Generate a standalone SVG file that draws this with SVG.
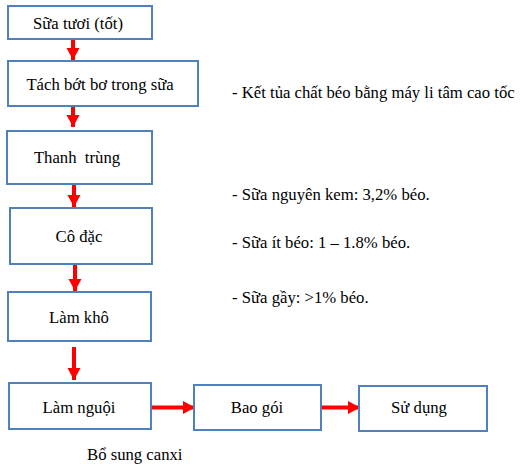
<svg xmlns="http://www.w3.org/2000/svg" width="529" height="468" viewBox="0 0 529 468">
<style>
.box{fill:#fff;stroke:#4F81BD;stroke-width:2}
.t{font-family:'Liberation Serif','DejaVu Serif',serif;font-size:16.7px;fill:#000}
.c{text-anchor:middle}
.arr{stroke:#FF0000;stroke-width:4;fill:none}
</style>
<defs>
<marker id="ah" markerUnits="userSpaceOnUse" markerWidth="13" markerHeight="16" refX="12" refY="8" orient="auto">
<path d="M0,1.5 L12,8 L0,14.5 Z" fill="#FF0000"/>
</marker>
</defs>
<rect width="529" height="468" fill="#fff"/>
<g id="connectors">
<line class="arr" x1="73" y1="40" x2="73" y2="60" marker-end="url(#ah)"/>
<line class="arr" x1="73" y1="107" x2="73" y2="127" marker-end="url(#ah)"/>
<line class="arr" x1="74" y1="185" x2="74" y2="207" marker-end="url(#ah)"/>
<line class="arr" x1="75" y1="265" x2="75" y2="291" marker-end="url(#ah)"/>
<line class="arr" x1="74" y1="347" x2="74" y2="380" marker-end="url(#ah)"/>
<line class="arr" x1="152" y1="407.5" x2="195" y2="407.5" marker-end="url(#ah)"/>
<line class="arr" x1="322" y1="407.5" x2="360" y2="407.5" marker-end="url(#ah)"/>
</g>
<g id="n1"><rect class="box" x="8" y="6" width="144" height="33"/><text class="t c" x="78" y="29">Sữa tươi (tốt)</text></g>
<g id="n2"><rect class="box" x="8" y="61" width="190" height="45"/><text class="t c" x="100" y="90">Tách bớt bơ trong sữa</text></g>
<g id="n3"><rect class="box" x="7" y="131" width="145" height="53"/><text class="t c" x="77" y="163" xml:space="preserve">Thanh  trùng</text></g>
<g id="n4"><rect class="box" x="10" y="208" width="142" height="56"/><text class="t c" x="79" y="242">Cô đặc</text></g>
<g id="n5"><rect class="box" x="8" y="292" width="143" height="49"/><text class="t c" x="79" y="323">Làm khô</text></g>
<g id="n6"><rect class="box" x="9" y="383" width="142" height="46"/><text class="t c" x="79" y="413">Làm nguội</text></g>
<g id="n7"><rect class="box" x="194" y="385" width="127" height="45"/><text class="t c" x="257" y="413">Bao gói</text></g>
<g id="n8"><rect class="box" x="359" y="386" width="128" height="45"/><text class="t c" x="419" y="413">Sử dụng</text></g>
<g id="notes">
<text class="t" x="232" y="98">- Kết tủa chất béo bằng máy li tâm cao tốc</text>
<text class="t" x="232" y="200">- Sữa nguyên kem: 3,2% béo.</text>
<text class="t" x="232" y="248">- Sữa ít béo: 1 – 1.8% béo.</text>
<text class="t" x="232" y="303">- Sữa gầy: &gt;1% béo.</text>
<text class="t" x="87" y="460">Bổ sung canxi</text>
</g>
</svg>
